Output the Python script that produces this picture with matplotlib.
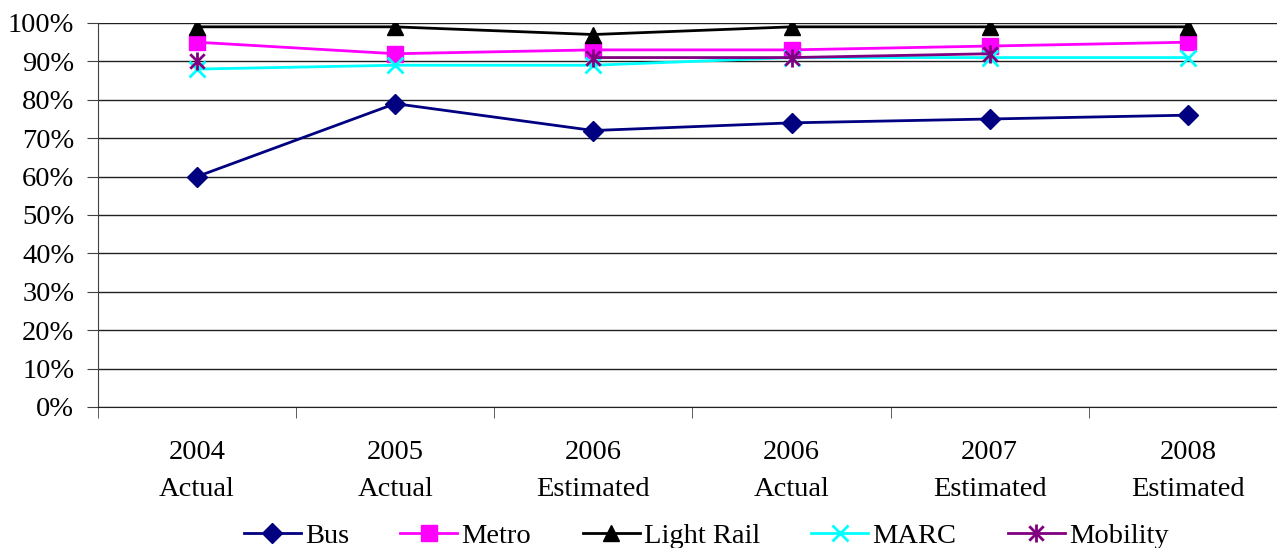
import numpy as np
import matplotlib.pyplot as plt
from matplotlib.path import Path

plt.rcParams['font.family'] = ['Liberation Serif', 'DejaVu Serif']

categories = ["2004\nActual", "2005\nActual", "2006\nEstimated",
              "2006\nActual", "2007\nEstimated", "2008\nEstimated"]
bus = [60, 79, 72, 74, 75, 76]
metro = [95, 92, 93, 93, 94, 95]
light_rail = [99, 99, 97, 99, 99, 99]
marc = [88, 89, 89, 91, 91, 91]
mobility = [90, np.nan, 91, 91, 92, np.nan]

star = Path([(0, -1), (0, 1), (-0.8, -0.8), (0.8, 0.8), (-0.8, 0.8), (0.8, -0.8)],
            [Path.MOVETO, Path.LINETO, Path.MOVETO, Path.LINETO, Path.MOVETO, Path.LINETO])

fs = 20.5
fig = plt.figure(figsize=(12.77, 5.48), dpi=100)
ax = fig.add_axes([97.9 / 1277, 1 - 407 / 548, (1287 - 97.9) / 1277, 384 / 548])

x = np.arange(len(categories))
ax.plot(x, bus, color='#000080', lw=2, marker='D', ms=10, label='Bus')
ax.plot(x, metro, color='#FF00FF', lw=2, marker='s', ms=12, label='Metro')
ax.plot(x, light_rail, color='black', lw=2, marker='^', ms=12, label='Light Rail')
ax.plot(x, marc, color='#00FFFF', lw=2, marker='x', ms=12, mew=2, label='MARC')
ax.plot(x, mobility, color='#800080', lw=2, marker=star, ms=13, mew=2,
        mfc='none', mec='#800080', label='Mobility')

ax.set_xlim(-0.5, len(categories) - 0.5)
ax.set_ylim(0, 100)
ax.set_yticks(np.arange(0, 101, 10))
ax.set_yticklabels(['%d%%' % v for v in range(0, 101, 10)], fontsize=fs)
ax.set_xticks(x)
ax.set_xticklabels(categories, fontsize=fs, linespacing=1.6)
ax.set_xticks(np.arange(-0.5, len(categories), 1), minor=True)
ax.tick_params(axis='x', which='major', length=0, pad=24)
ax.tick_params(axis='x', which='minor', length=8, color='#404040')
ax.tick_params(axis='y', length=8, color='#404040', pad=9)
ax.yaxis.grid(True, color='#202020', lw=1)
ax.set_axisbelow(True)
for s in ['top', 'right']:
    ax.spines[s].set_visible(False)
ax.spines['left'].set_color('#404040')
ax.spines['bottom'].set_color('#202020')

fig.legend(loc='lower center', bbox_to_anchor=(0.553, -0.048), ncol=5, frameon=False,
           fontsize=fs, handlelength=2.0, handletextpad=0.15, columnspacing=1.8)

fig.savefig('out.png', dpi=100)
